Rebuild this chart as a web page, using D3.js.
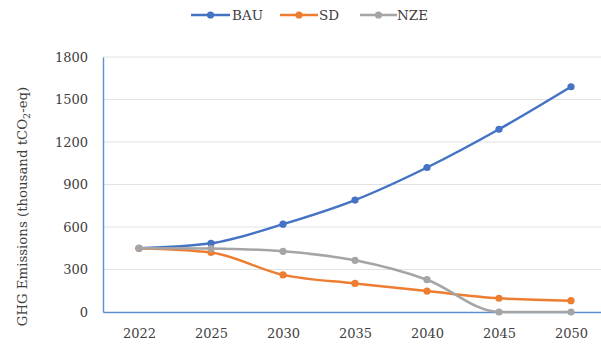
<!DOCTYPE html>
<html>
<head>
<meta charset="utf-8">
<script src="https://cdn.jsdelivr.net/npm/d3@7/dist/d3.min.js"></script>
<style>
  html, body { margin: 0; padding: 0; background: #fff; }
</style>
</head>
<body>
<svg id="chart" width="601" height="353"></svg>
<script>
// Scenario emission pathways (thousand tCO2-eq)
const years = ["2022", "2025", "2030", "2035", "2040", "2045", "2050"];
const bau = [450, 485, 620, 790, 1020, 1290, 1590];
const sd  = [450, 420, 262, 202, 148, 97, 80];
const nze = [450, 448, 428, 365, 228, 0, 0];
const yTicks = [0, 300, 600, 900, 1200, 1500, 1800];

const seriesNames = ["BAU", "SD", "NZE"];
const seriesColors = ["#4472C4", "#ED7D31", "#A5A5A5"];
const series = [bau, sd, nze].map((vals, i) => ({
  name: seriesNames[i],
  color: seriesColors[i],
  values: vals.map((v, j) => ({ year: years[j], value: v }))
}));

const FONT = "'DejaVu Serif', serif";

const svg = d3.select("#chart");
const plot = { left: 103, right: 607, top: 57, bottom: 312 };

const x = d3.scalePoint().domain(years).range([plot.left, plot.right]).padding(0.5);
const y = d3.scaleLinear().domain([0, 1800]).range([plot.bottom, plot.top]);

// Horizontal gridlines
svg.append("g")
  .selectAll("line")
  .data(yTicks.filter(t => t > 0))
  .join("line")
  .attr("x1", plot.left).attr("x2", 601)
  .attr("y1", d => y(d)).attr("y2", d => y(d))
  .attr("stroke", "#e2e2e2").attr("stroke-width", 1);

// Y axis
const yAxis = svg.append("g")
  .attr("transform", `translate(${plot.left},0)`)
  .call(d3.axisLeft(y).tickValues(yTicks).tickFormat(d3.format("d")).tickSize(0).tickPadding(15));
yAxis.attr("font-family", null);
yAxis.select(".domain").attr("stroke", "#5b8fd0").attr("stroke-width", 1.4);
yAxis.selectAll("text").style("font-family", FONT).style("font-size", "13px").attr("fill", "#404040");

// X axis
const xAxis = svg.append("g")
  .attr("transform", `translate(0,${plot.bottom})`)
  .call(d3.axisBottom(x).tickSize(0).tickPadding(17));
xAxis.attr("font-family", null);
xAxis.select(".domain").attr("stroke", "#5b8fd0").attr("stroke-width", 1.4);
xAxis.selectAll("text").style("font-family", FONT).style("font-size", "13px").attr("fill", "#404040");

// Y axis title
const title = svg.append("text")
  .attr("transform", `translate(27,${(plot.top + plot.bottom) / 2 + 22}) rotate(-90)`)
  .attr("text-anchor", "middle")
  .style("font-family", FONT)
  .style("font-size", "13.3px")
  .attr("fill", "#404040");
title.append("tspan").text("GHG Emissions (thousand tCO");
title.append("tspan").style("font-size", "9.5px").attr("dy", 3).text("2");
title.append("tspan").attr("dy", -3).text("-eq)");

// Lines and markers
const line = d3.line()
  .x(d => x(d.year))
  .y(d => y(d.value))
  .curve(d3.curveMonotoneX);

const groups = svg.append("g").selectAll("g")
  .data(series)
  .join("g");

groups.append("path")
  .attr("d", d => line(d.values))
  .attr("fill", "none")
  .attr("stroke", d => d.color)
  .attr("stroke-width", 2.5)
  .attr("stroke-linejoin", "round")
  .attr("stroke-linecap", "round");

groups.each(function (s) {
  d3.select(this).selectAll("circle")
    .data(s.values)
    .join("circle")
    .attr("cx", d => x(d.year))
    .attr("cy", d => y(d.value))
    .attr("r", 3.6)
    .attr("fill", s.color);
});

// Legend
const legendItems = [
  { x0: 191, x1: 230, tx: 232 },
  { x0: 280, x1: 318, tx: 319 },
  { x0: 360, x1: 397, tx: 397 }
];
const legend = svg.append("g").selectAll("g")
  .data(series)
  .join("g");
legend.append("line")
  .attr("x1", (d, i) => legendItems[i].x0)
  .attr("x2", (d, i) => legendItems[i].x1)
  .attr("y1", 15).attr("y2", 15)
  .attr("stroke", d => d.color).attr("stroke-width", 2.5);
legend.append("circle")
  .attr("cx", (d, i) => (legendItems[i].x0 + legendItems[i].x1) / 2)
  .attr("cy", 15).attr("r", 3.6)
  .attr("fill", d => d.color);
legend.append("text")
  .attr("x", (d, i) => legendItems[i].tx)
  .attr("y", 20)
  .style("font-family", FONT)
  .style("font-size", "13.5px")
  .attr("fill", "#404040")
  .text(d => d.name);
</script>
</body>
</html>
